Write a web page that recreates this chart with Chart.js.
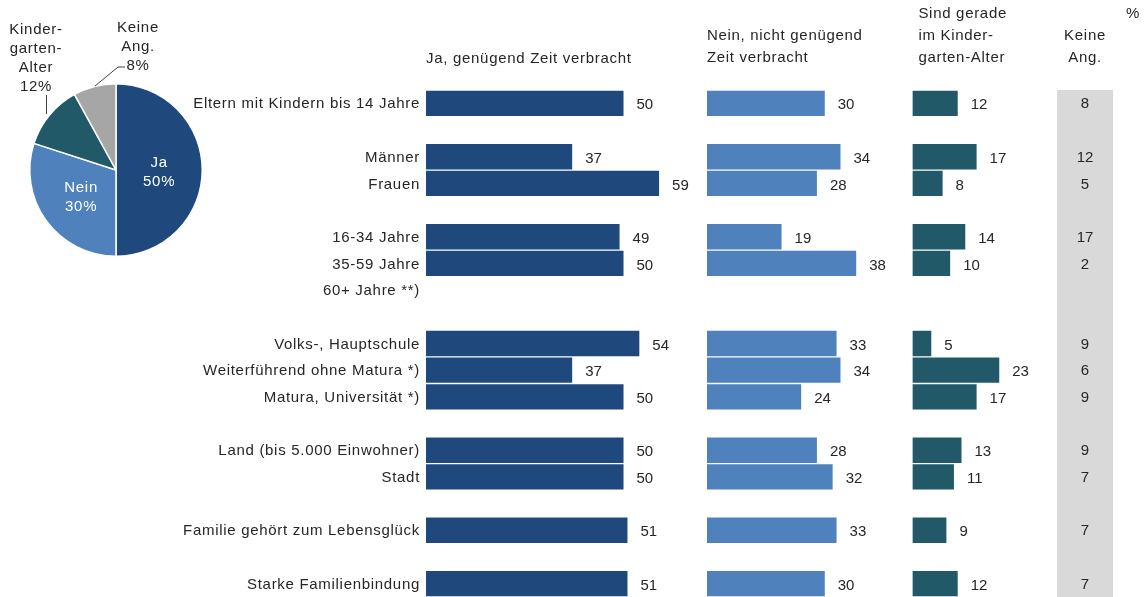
<!DOCTYPE html>
<html lang="de">
<head>
<meta charset="utf-8">
<title>Zeit mit den Kindern</title>
<script src="https://cdn.jsdelivr.net/npm/chart.js@4.4.1/dist/chart.umd.min.js"></script>
<style>
  html, body { margin: 0; padding: 0; background: #fff; overflow: hidden; }
  canvas { position: absolute; left: 0; top: 0; }
</style>
</head>
<body>
<canvas id="grafik-balken" width="1145" height="597"></canvas>
<canvas id="grafik-kreis" width="240" height="270"></canvas>
<script>
// Zeilen der Tabelle, leere Einträge sind Abstände zwischen den Gruppen
const zeilen = [
  'Eltern mit Kindern bis 14 Jahre', '',
  'Männer', 'Frauen', '',
  '16-34 Jahre', '35-59 Jahre', '60+ Jahre **)', '',
  'Volks-, Hauptschule', 'Weiterführend ohne Matura *)', 'Matura, Universität *)', '',
  'Land (bis 5.000 Einwohner)', 'Stadt', '',
  'Familie gehört zum Lebensglück', '',
  'Starke Familienbindung'
];
const ja =       [50, null, 37, 59, null, 49, 50, null, null, 54, 37, 50, null, 50, 50, null, 51, null, 51];
const nein =     [30, null, 34, 28, null, 19, 38, null, null, 33, 34, 24, null, 28, 32, null, 33, null, 30];
const kiga =     [12, null, 17,  8, null, 14, 10, null, null,  5, 23, 17, null, 13, 11, null,  9, null, 12];
const keineAng = [ 8, null, 12,  5, null, 17,  2, null, null,  9,  6,  9, null,  9,  7, null,  7, null,  7];

const kreisLabels = ['Ja', 'Nein', 'Kindergarten-Alter', 'Keine Ang.'];
const kreisWerte = [50, 30, 12, 8];

const DUNKELBLAU = '#1f497d';
const HELLBLAU = '#4f81bd';
const PETROL = '#215968';
const GRAU = '#a6a6a6';
const SCHRIFT = '"Liberation Sans", Arial, sans-serif';
const SPERRUNG = '0.7px';

// leicht gesperrte Schrift für die Beschriftungen
const sperrung = {
  id: 'sperrung',
  beforeDraw(chart) { chart.ctx.letterSpacing = SPERRUNG; }
};

const spalteGrau = {
  id: 'spalteGrau',
  beforeDatasetsDraw(chart) {
    const ctx = chart.ctx;
    const x4 = chart.scales.xKeine;
    const area = chart.chartArea;
    ctx.save();
    ctx.letterSpacing = '0px';
    ctx.fillStyle = '#d9d9d9';
    ctx.fillRect(x4.left, area.top, 56, area.bottom - area.top);
    ctx.font = '15px ' + SCHRIFT;
    ctx.fillStyle = '#262626';
    ctx.textAlign = 'center';
    ctx.textBaseline = 'middle';
    keineAng.forEach(function (v, i) {
      if (v == null) return;
      ctx.fillText(String(v), x4.left + 28, chart.scales.y.getPixelForValue(i) + 1);
    });
    ctx.restore();
  }
};

const wertBeschriftung = {
  id: 'wertBeschriftung',
  afterDatasetsDraw(chart) {
    const ctx = chart.ctx;
    ctx.save();
    ctx.letterSpacing = '0px';
    ctx.font = '15px ' + SCHRIFT;
    ctx.fillStyle = '#262626';
    ctx.textAlign = 'left';
    ctx.textBaseline = 'middle';
    chart.data.datasets.forEach(function (ds, i) {
      chart.getDatasetMeta(i).data.forEach(function (bar, j) {
        const v = ds.data[j];
        if (v == null) return;
        ctx.fillText(String(v), bar.x + 13, bar.y + 2);
      });
    });
    ctx.restore();
  }
};

const kopfzeilen = {
  id: 'kopfzeilen',
  afterDraw(chart) {
    const ctx = chart.ctx;
    const s = chart.scales;
    ctx.save();
    ctx.font = '15px ' + SCHRIFT;
    ctx.fillStyle = '#262626';
    ctx.textBaseline = 'middle';
    ctx.textAlign = 'left';
    ctx.fillText('Ja, genügend Zeit verbracht', s.x1.left, 59);
    ctx.fillText('Nein, nicht genügend', s.x2.left, 36);
    ctx.fillText('Zeit verbracht', s.x2.left, 58);
    ctx.fillText('Sind gerade', s.x3.left + 6, 14);
    ctx.fillText('im Kinder-', s.x3.left + 6, 36);
    ctx.fillText('garten-Alter', s.x3.left + 6, 58);
    ctx.textAlign = 'center';
    ctx.fillText('Keine', s.xKeine.left + 28, 36);
    ctx.fillText('Ang.', s.xKeine.left + 28, 58);
    ctx.fillText('%', s.xKeine.left + 76, 14);
    ctx.restore();
  }
};

function balkenSatz(label, werte, farbe, achse) {
  return {
    label: label,
    data: werte,
    backgroundColor: farbe,
    xAxisID: achse,
    grouped: false,
    barPercentage: 0.95,
    categoryPercentage: 1
  };
}

function versteckteAchse(max, breite) {
  return { display: false, min: 0, max: max, stacked: false, stack: 'spalten', stackWeight: breite };
}

new Chart(document.getElementById('grafik-balken'), {
  type: 'bar',
  data: {
    labels: zeilen,
    datasets: [
      balkenSatz('Ja, genügend Zeit verbracht', ja, DUNKELBLAU, 'x1'),
      balkenSatz('Nein, nicht genügend Zeit verbracht', nein, HELLBLAU, 'x2'),
      balkenSatz('Sind gerade im Kindergarten-Alter', kiga, PETROL, 'x3')
    ]
  },
  options: {
    indexAxis: 'y',
    responsive: false,
    animation: false,
    layout: { padding: { left: 0, right: 0, top: 90, bottom: 0 } },
    plugins: { legend: { display: false }, tooltip: { enabled: false } },
    scales: {
      y: {
        grid: { display: false, drawTicks: false },
        border: { display: false },
        ticks: { color: '#262626', font: { family: SCHRIFT, size: 15 }, padding: 6, autoSkip: false, labelOffset: 1 },
        afterFit: function (scale) {
          scale.width = 426;
          scale.paddingTop = 0;
          scale.paddingBottom = 0;
        }
      },
      x1: versteckteAchse(71.1, 281),
      x2: versteckteAchse(52.3, 205.6),
      x3: versteckteAchse(38.3, 144.7),
      xKeine: versteckteAchse(1, 88)
    }
  },
  plugins: [sperrung, spalteGrau, wertBeschriftung, kopfzeilen]
});

const kreisBeschriftung = {
  id: 'kreisBeschriftung',
  afterDatasetsDraw(chart) {
    const ctx = chart.ctx;
    const bogen = chart.getDatasetMeta(0).data;
    const cx = bogen[0].x;
    const cy = bogen[0].y;
    ctx.save();
    ctx.font = '15px ' + SCHRIFT;
    ctx.textAlign = 'center';
    ctx.textBaseline = 'middle';
    ctx.fillStyle = '#ffffff';
    [0, 1].forEach(function (i) {
      const p = bogen[i].tooltipPosition();
      ctx.fillText(kreisLabels[i], p.x, p.y - 7);
      ctx.fillText(kreisWerte[i] + '%', p.x, p.y + 12);
    });

    ctx.fillStyle = '#262626';
    ['Kinder-', 'garten-', 'Alter', kreisWerte[2] + '%'].forEach(function (t, k) {
      ctx.fillText(t, cx - 80, cy - 140 + k * 19);
    });
    ['Keine', 'Ang.', kreisWerte[3] + '%'].forEach(function (t, k) {
      ctx.fillText(t, cx + 22, cy - 142 + k * 19);
    });

    ctx.strokeStyle = '#404040';
    ctx.lineWidth = 1;
    ctx.beginPath();
    ctx.moveTo(cx - 69.5, cy - 75);
    ctx.lineTo(cx - 69.5, cy - 56);
    ctx.moveTo(cx + 9, cy - 103);
    ctx.lineTo(cx + 2, cy - 103);
    ctx.lineTo(cx - 21, cy - 84);
    ctx.stroke();
    ctx.restore();
  }
};

new Chart(document.getElementById('grafik-kreis'), {
  type: 'pie',
  data: {
    labels: kreisLabels,
    datasets: [{
      data: kreisWerte,
      backgroundColor: [DUNKELBLAU, HELLBLAU, PETROL, GRAU],
      borderColor: '#ffffff',
      borderWidth: 1.5
    }]
  },
  options: {
    responsive: false,
    animation: false,
    layout: { padding: { left: 29, top: 83, right: 37, bottom: 13 } },
    plugins: { legend: { display: false }, tooltip: { enabled: false } }
  },
  plugins: [sperrung, kreisBeschriftung]
});
</script>
</body>
</html>
